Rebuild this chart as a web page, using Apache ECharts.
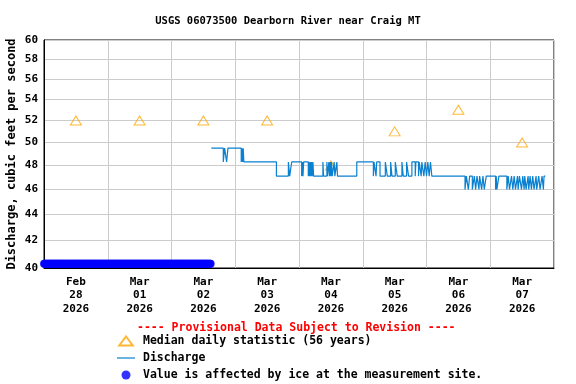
<!DOCTYPE html>
<html><head><meta charset="utf-8">
<script src="https://cdn.jsdelivr.net/npm/echarts@6/dist/echarts.min.js"></script>
<style>html,body{margin:0;padding:0;background:#fff}#c{width:576px;height:384px}</style>
</head><body><div id="c"></div>
<script>
const titleText = 'USGS 06073500 Dearborn River near Craig MT';
const provisionalText = '---- Provisional Data Subject to Revision ----';
const yAxisName = 'Discharge, cubic feet per second';
// x positions are hours since Feb 28 2026 00:00
const dayLabelHours = [12, 36, 60, 84, 108, 132, 156, 180];
const dayLabels = ['Feb\n28\n2026', 'Mar\n01\n2026', 'Mar\n02\n2026', 'Mar\n03\n2026', 'Mar\n04\n2026', 'Mar\n05\n2026', 'Mar\n06\n2026', 'Mar\n07\n2026'];
const yTicks = [40, 42, 44, 46, 48, 50, 52, 54, 56, 58, 60];

const medianName = 'Median daily statistic (56 years)';
const medianHours = [12, 36, 60, 84, 108, 132, 156, 180];
const medianValues = [52, 52, 52, 52, 48, 51, 53, 50];

const dischargeName = 'Discharge';
const dischargeHours = [63.0, 67.5, 68.0, 68.75, 69.25, 74.25, 74.5, 74.75, 75.0, 75.25, 87.5, 92.0, 92.5, 93.25, 97.0, 97.25, 97.5, 97.75, 99.5, 99.75, 100.0, 100.25, 100.5, 100.75, 101.0, 101.25, 101.5, 105.0, 105.25, 106.5, 106.75, 107.25, 107.5, 107.75, 108.0, 108.25, 108.5, 109.25, 109.5, 110.25, 110.5, 117.75, 124.0, 124.25, 125.0, 125.25, 126.5, 128.5, 129.25, 130.5, 131.0, 132.25, 133.0, 134.75, 135.25, 136.5, 137.25, 138.5, 139.75, 140.0, 141.0, 141.25, 142.0, 142.25, 143.0, 143.5, 144.0, 144.5, 145.0, 145.5, 146.0, 158.5, 159.0, 159.75, 160.25, 161.25, 162.0, 162.5, 163.0, 163.75, 164.0, 164.75, 165.25, 165.75, 166.5, 170.0, 170.25, 170.5, 171.25, 174.25, 174.75, 175.25, 176.0, 176.5, 177.0, 177.5, 178.25, 178.5, 179.0, 179.75, 180.25, 180.75, 181.0, 181.5, 182.25, 182.5, 183.0, 183.5, 184.0, 184.5, 185.25, 185.5, 186.25, 186.75, 187.5, 188.0, 188.25, 188.75];
const dischargeValues = [49.5, 48.3, 49.5, 48.3, 49.5, 48.3, 49.5, 48.3, 49.5, 48.3, 47.1, 48.3, 47.1, 48.3, 47.1, 48.3, 47.1, 48.3, 47.1, 48.3, 47.1, 48.3, 47.1, 48.3, 47.1, 48.3, 47.1, 48.3, 47.1, 48.3, 47.1, 48.3, 47.1, 48.3, 47.1, 48.3, 47.1, 48.3, 47.1, 48.3, 47.1, 48.3, 47.1, 48.3, 47.1, 48.3, 47.1, 48.3, 47.1, 48.3, 47.1, 48.3, 47.1, 48.3, 47.1, 48.3, 47.1, 48.3, 47.1, 48.3, 47.1, 48.3, 47.1, 48.3, 47.1, 48.3, 47.1, 48.3, 47.1, 48.3, 47.1, 46.0, 47.1, 46.0, 47.1, 46.0, 47.1, 46.0, 47.1, 46.0, 47.1, 46.0, 47.1, 46.0, 47.1, 46.0, 47.1, 46.0, 47.1, 46.0, 47.1, 46.0, 47.1, 46.0, 47.1, 46.0, 47.1, 46.0, 47.1, 46.0, 47.1, 46.0, 47.1, 46.0, 47.1, 46.0, 47.1, 46.0, 47.1, 46.0, 47.1, 46.0, 47.1, 46.0, 47.1, 46.0, 47.1, 47.1];

const iceName = 'Value is affected by ice at the measurement site.';
const iceStartHour = 0;
const iceEndHour = 62.75;
const iceStepHours = 0.25;
const iceMarkerValue = 40.3;

const iceData = [];
for (let h = iceStartHour; h <= iceEndHour + 1e-9; h += iceStepHours) iceData.push([h, iceMarkerValue]);
const dischargeData = dischargeHours.map((h, i) => [h, dischargeValues[i]]);
const medianData = medianHours.map((h, i) => [h, medianValues[i]]);

const FONT = 'DejaVu Sans Mono';
const chart = echarts.init(document.getElementById('c'), null, {renderer: 'canvas'});
chart.setOption({
  animation: false,
  backgroundColor: '#fff',
  title: [
    {text: titleText, left: 'center', top: 11, padding: 5, textStyle: {fontFamily: FONT, fontSize: 10.5, fontWeight: 'bold', color: '#000'}},
    {text: provisionalText, left: 132, top: 317, textStyle: {fontFamily: FONT, fontSize: 11.5, fontWeight: 'bold', color: '#ff0000'}}
  ],
  legend: {
    orient: 'vertical', left: 117, top: 335, height: 60, padding: 0, itemWidth: 18, itemHeight: 9, itemGap: 5,
    textStyle: {fontFamily: FONT, fontSize: 11.5, fontWeight: 'bold', color: '#000', padding: [0, 0, 0, 3]},
    data: [
      {name: medianName, icon: 'path://M6,0L12,8L0,8Z'},
      {name: dischargeName, icon: 'path://M0,0H18V1.2H0Z'},
      {name: iceName, icon: 'circle'}
    ]
  },
  grid: {left: 44, right: 22, top: 40, bottom: 116, outerBoundsMode: 'none', containLabel: false, show: true, borderColor: '#000', borderWidth: 1, backgroundColor: 'transparent'},
  xAxis: {
    type: 'value', min: 0, max: 192, interval: 24,
    axisLine: {show: true, lineStyle: {color: '#000', width: 1}},
    axisTick: {show: false},
    splitLine: {show: true, lineStyle: {color: '#cccccc', width: 1}},
    axisLabel: {
      customValues: dayLabelHours, margin: 7, lineHeight: 13.5,
      fontFamily: FONT, fontSize: 11, fontWeight: 'bold', color: '#000',
      formatter: v => dayLabels[dayLabelHours.indexOf(v)] || ''
    }
  },
  yAxis: {
    type: 'log', logBase: 10, min: 40, max: 60,
    name: yAxisName, nameLocation: 'middle', nameGap: 26, nameMoveOverlap: false,
    nameTextStyle: {fontFamily: FONT, fontSize: 12, fontWeight: 'bold', color: '#000'},
    axisLine: {show: true, lineStyle: {color: '#000', width: 1}},
    axisTick: {show: false, customValues: yTicks},
    splitLine: {show: true, lineStyle: {color: '#cccccc', width: 1}},
    axisLabel: {customValues: yTicks, margin: 6, fontFamily: FONT, fontSize: 11, fontWeight: 'bold', color: '#000', formatter: v => String(Math.round(v))}
  },
  series: [
    {name: medianName, type: 'scatter', data: medianData, symbol: 'triangle', symbolSize: [11, 9], z: 2,
     itemStyle: {color: 'rgba(255,255,255,0)', borderColor: '#FFA500', borderWidth: 1}},
    {name: dischargeName, type: 'line', step: 'end', data: dischargeData, symbol: 'none', showSymbol: false, z: 3,
     lineStyle: {color: '#0A80D0', width: 1.2}, itemStyle: {color: '#0A80D0'}},
    {name: iceName, type: 'scatter', data: iceData, symbol: 'circle', symbolSize: 8, z: 4,
     itemStyle: {color: '#0000FF'}}
  ]
});
</script>
</body></html>
